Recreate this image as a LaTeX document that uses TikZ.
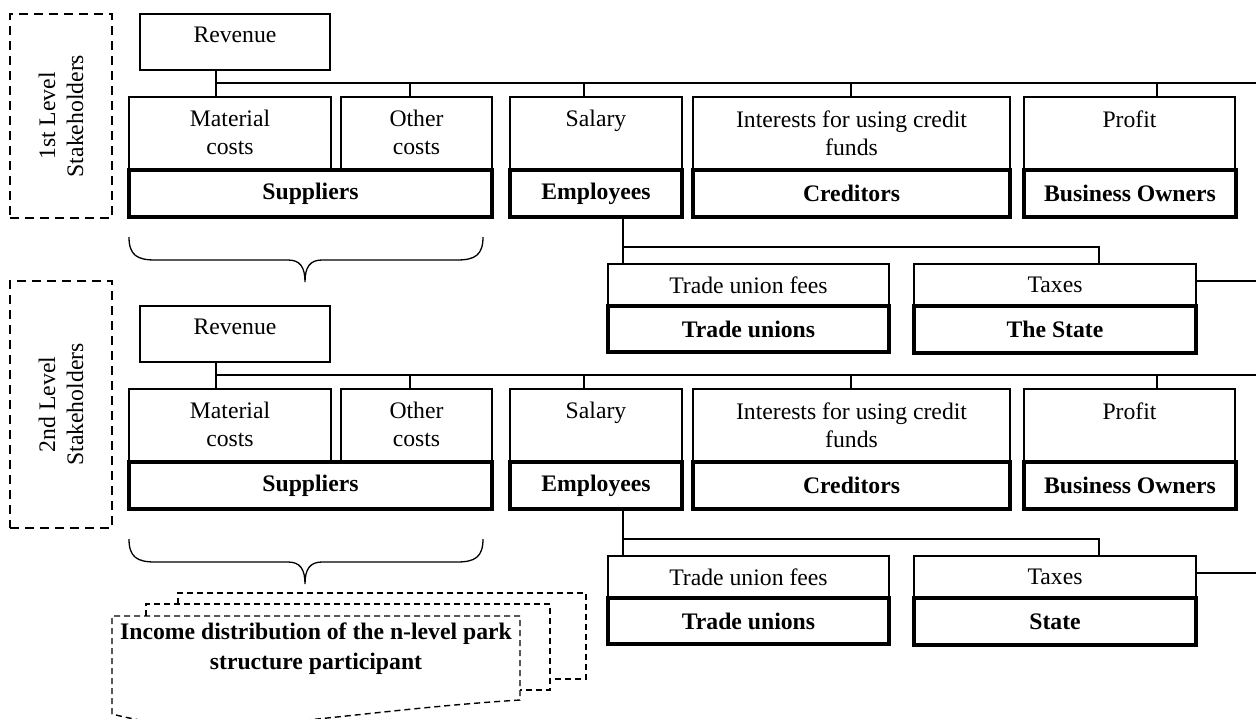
\documentclass[tikz,border=0pt]{standalone}
\usepackage{fontspec}
\setmainfont{Liberation Serif}
\usepackage{tikz}
\usetikzlibrary{positioning}

\newcommand{\diagfont}{\fontsize{11.85}{14}\selectfont}

\tikzset{
  costbox/.style={draw, line width=0.65pt, rectangle, anchor=north west, inner sep=0pt, outer sep=0pt},
  holder/.style={draw, line width=1.6pt, rectangle, anchor=north west, inner sep=0pt, outer sep=0pt, font=\diagfont\bfseries},
  wh/.style 2 args={minimum width=#1*0.5pt, minimum height=#2*0.5pt},
  toptext/.style={anchor=north, align=center, inner sep=0pt, yshift=-6.5pt},
  link/.style={line width=0.65pt},
  tier/.style={draw, dash pattern=on 4.5pt off 3pt, line width=0.8pt, anchor=north west, inner sep=0pt, outer sep=0pt},
  sheet/.style={dash pattern=on 3pt off 2pt, line width=0.7pt}
}

\begin{document}
\begin{tikzpicture}[x=0.5pt,y=-0.5pt]
\tikzstyle{every node}+=[font=\diagfont]
\useasboundingbox (0,0) rectangle (1256,718);

% stakeholder levels
\node[tier, wh={102}{204}] (lev1) at (10,14) {};
\node[rotate=90, align=center] (lev1t) at (lev1.center) {1st Level\\Stakeholders};
\node[tier, wh={102}{247}] (lev2) at (10,281) {};
\node[rotate=90, align=center] (lev2t) at (lev2.center) {2nd Level\\Stakeholders};

\foreach \lv/\dy/\st in {1/0/The State, 2/292/State}{
\begin{scope}[shift={(0,\dy)}]
% revenue and its shares
\node[costbox, wh={190}{56}] (rev\lv) at (140,14) {};
\node[toptext] (revt\lv) at (rev\lv.north) {Revenue};
\node[costbox, wh={202}{73}] (mat\lv) at (129,97) {};
\node[toptext] (matt\lv) at (mat\lv.north) {Material\\costs};
\node[costbox, wh={151}{73}] (oth\lv) at (341,97) {};
\node[toptext] (otht\lv) at (oth\lv.north) {Other\\costs};
\node[costbox, wh={172}{73}] (sal\lv) at (510,97) {};
\node[toptext] (salt\lv) at (sal\lv.north) {Salary};
\node[costbox, wh={317}{73}] (int\lv) at (693,97) {};
\node[toptext] (intt\lv) at (int\lv.north) {Interests for using credit\\funds};
\node[costbox, wh={211}{73}] (pro\lv) at (1024,97) {};
\node[toptext] (prot\lv) at (pro\lv.north) {Profit};
% receivers
\node[holder, wh={363}{47}] (sup\lv) at (129,170) {Suppliers};
\node[holder, wh={172}{47}] (emp\lv) at (510,170) {Employees};
\node[holder, wh={317}{47}] (cre\lv) at (693,170) {Creditors};
\node[holder, wh={212}{47}] (own\lv) at (1024,170) {Business Owners};
% second row
\node[costbox, wh={281}{42}] (fee\lv) at (608,264) {Trade union fees};
\node[holder, wh={281}{46}] (uni\lv) at (608,306) {Trade unions};
\node[costbox, wh={282}{42}] (tax\lv) at (914,264) {Taxes};
\node[holder, wh={282}{47}] (sta\lv) at (914,306) {\st};
% connectors
\coordinate (bus\lv) at (216,83);
\coordinate (busend\lv) at (1256,83);
\draw[link] (rev\lv.south -| bus\lv) -- (mat\lv.north -| bus\lv);
\draw[link] (bus\lv) -- (busend\lv);
\foreach \bx/\bn in {410/oth,584/sal,851/int,1157/pro}
  \draw[link] (\bx,83) -- (\bn\lv.north -| \bx,83);
\coordinate (emb\lv) at (623,247);
\draw[link] (emp\lv.south -| emb\lv) -- (fee\lv.north -| emb\lv);
\draw[link] (emb\lv) -| (tax\lv.north -| 1099,0);
\coordinate (taxend\lv) at (1256,281);
\draw[link] (tax\lv.east |- taxend\lv) -- (taxend\lv);
\end{scope}
}

% braces under suppliers
\foreach \by in {237,539}
  \draw[link] (129,\by) .. controls (129,{\by+18}) and (137,{\by+23}) .. (155,{\by+23})
    -- (288,{\by+23}) .. controls (300,{\by+23}) and (305,{\by+30}) .. (305,{\by+45})
    .. controls (305,{\by+30}) and (310,{\by+23}) .. (322,{\by+23})
    -- (457,{\by+23}) .. controls (475,{\by+23}) and (483,{\by+18}) .. (483,\by);

% n-level participant sheets
\draw[sheet] (178,604) -- (178,593) -- (586,593) -- (586,679) -- (550,679);
\draw[sheet] (146,616) -- (146,604) -- (550,604) -- (550,690) -- (520,690);
\draw[sheet] (112,714) -- (112,616) -- (520,616) -- (520,700)
  .. controls (330,712) and (220,742) .. (112,714);
\node[font=\fontsize{11.85}{15}\selectfont\bfseries, align=center] (npart) at (316,649)
  {Income distribution of the n-level park\\structure participant};
\end{tikzpicture}
\end{document}
